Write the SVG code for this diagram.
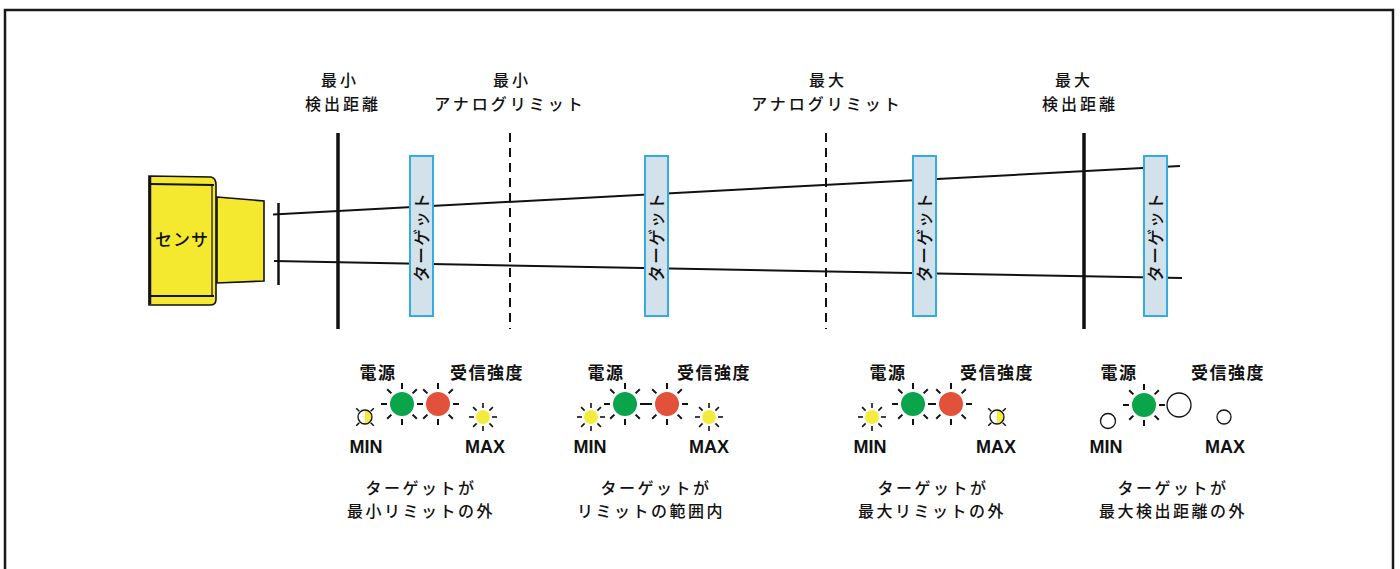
<svg xmlns="http://www.w3.org/2000/svg" width="1400" height="569" viewBox="0 0 1400 569">
  <style>
    .jp { font-family: "Noto Sans CJK JP", "Noto Sans", sans-serif; fill: #111; }
    .lbl { font-size: 16px; font-weight: 500; letter-spacing: 3px; text-anchor: middle; }
    .ind { font-size: 17px; font-weight: 700; letter-spacing: 1.5px; text-anchor: middle; }
    .cap { font-size: 16px; font-weight: 500; letter-spacing: 2.5px; text-anchor: middle; }
    .mm { font-family: "Liberation Sans", Arial, sans-serif; font-size: 18px; font-weight: 700; fill: #111; text-anchor: middle; }
    .tgt rect { fill: #d2e1ea; stroke: #35ace0; stroke-width: 2; }
    .tgt text { font-size: 17px; font-weight: 500; letter-spacing: 1px; text-anchor: middle; }
    .beam { stroke: #111; stroke-width: 2; fill: none; }
    .solid { stroke: #111; stroke-width: 3.5; }
    .dash { stroke: #111; stroke-width: 2; stroke-dasharray: 9 6; }
    .green { fill: #0aa54b; }
    .red { fill: #e2513a; }
    .yel { fill: #f4ec3c; }
    .off { fill: #fff; stroke: #111; stroke-width: 1.3; }
    .ray { stroke: #111; stroke-width: 2; stroke-linecap: butt; }
  </style>
  <defs>
    <!-- 8 rays around a large lamp -->
    <g id="raysL" class="ray">
      <line x1="0" y1="-15" x2="0" y2="-21"/>
      <line x1="0" y1="15" x2="0" y2="21"/>
      <line x1="-15" y1="0" x2="-21" y2="0"/>
      <line x1="15" y1="0" x2="21" y2="0"/>
      <line x1="10.6" y1="-10.6" x2="14.8" y2="-14.8"/>
      <line x1="-10.6" y1="-10.6" x2="-14.8" y2="-14.8"/>
      <line x1="10.6" y1="10.6" x2="14.8" y2="14.8"/>
      <line x1="-10.6" y1="10.6" x2="-14.8" y2="14.8"/>
    </g>
    <!-- 8 rays around a small lamp -->
    <g id="raysS" class="ray" style="stroke-width:1.6">
      <line x1="0" y1="-9" x2="0" y2="-14"/>
      <line x1="0" y1="9" x2="0" y2="14"/>
      <line x1="-9" y1="0" x2="-14" y2="0"/>
      <line x1="9" y1="0" x2="14" y2="0"/>
      <line x1="6.4" y1="-6.4" x2="9.9" y2="-9.9"/>
      <line x1="-6.4" y1="-6.4" x2="-9.9" y2="-9.9"/>
      <line x1="6.4" y1="6.4" x2="9.9" y2="9.9"/>
      <line x1="-6.4" y1="6.4" x2="-9.9" y2="9.9"/>
    </g>
    <!-- blinking small lamp: half lit, diagonal ticks -->
    <g id="half">
      <circle r="7" fill="#fff"/>
      <path d="M0,-7 A7,7 0 0 1 0,7 Z" class="yel"/>
      <circle r="7" fill="none" stroke="#111" stroke-width="1.3"/>
      <g class="ray" style="stroke-width:1.5">
        <line x1="5.7" y1="-5.7" x2="8.8" y2="-8.8"/>
        <line x1="-5.7" y1="-5.7" x2="-8.8" y2="-8.8"/>
        <line x1="5.7" y1="5.7" x2="8.8" y2="8.8"/>
        <line x1="-5.7" y1="5.7" x2="-8.8" y2="8.8"/>
      </g>
    </g>
  </defs>

  <rect width="1400" height="569" fill="#fff"/>
  <!-- frame -->
  <rect x="5" y="10" width="1388" height="570" fill="none" stroke="#1a1a1a" stroke-width="2.5"/>

  <!-- beam / boundary lines -->
  <g id="connectors">
    <line class="beam" x1="273" y1="214.5" x2="1180" y2="166"/>
    <line class="beam" x1="274" y1="261" x2="1182" y2="278"/>
    <line class="solid" x1="338" y1="133" x2="338" y2="329"/>
    <line class="solid" x1="1084" y1="133" x2="1084" y2="329"/>
    <line class="dash" x1="510" y1="133" x2="510" y2="329"/>
    <line class="dash" x1="826" y1="133" x2="826" y2="329"/>
  </g>

  <!-- sensor -->
  <g id="sensor">
    <path d="M149,176 L211,177 Q216,178 216,185 L216,299 Q216,305 211,305 L149,305 Z" fill="#f5e92f" stroke="#111" stroke-width="1.6"/>
    <line x1="151" y1="184" x2="214" y2="185" stroke="#111" stroke-width="2"/>
    <line x1="151" y1="296" x2="214" y2="296" stroke="#111" stroke-width="2"/>
    <line x1="150" y1="177" x2="150" y2="304" stroke="#111" stroke-width="2.5"/>
    <line x1="212" y1="186" x2="212" y2="295" stroke="#111" stroke-width="1.2"/>
    <path d="M217,197 L264,201 L264,281 L217,283 Z" fill="#f5e92f" stroke="#111" stroke-width="1.6"/>
    <line x1="278.5" y1="203" x2="278.5" y2="285" stroke="#111" stroke-width="2.5"/>
    <text class="jp" x="182" y="246" style="font-size:17px;font-weight:500;letter-spacing:1px;text-anchor:middle">センサ</text>
  </g>

  <!-- boundary labels -->
  <g id="label-min-range">
    <text class="jp lbl" x="340" y="86">最小</text>
    <text class="jp lbl" x="343" y="110">検出距離</text>
  </g>
  <g id="label-min-analog">
    <text class="jp lbl" x="512" y="86">最小</text>
    <text class="jp lbl" x="510" y="110">アナログリミット</text>
  </g>
  <g id="label-max-analog">
    <text class="jp lbl" x="828" y="86">最大</text>
    <text class="jp lbl" x="827" y="110">アナログリミット</text>
  </g>
  <g id="label-max-range">
    <text class="jp lbl" x="1074" y="86">最大</text>
    <text class="jp lbl" x="1080" y="110">検出距離</text>
  </g>

  <!-- targets -->
  <g id="target1" class="tgt">
    <rect x="410" y="156" width="23" height="160"/>
    <text class="jp" transform="translate(421.5,237) rotate(-90)" x="0" y="6">ターゲット</text>
  </g>
  <g id="target2" class="tgt">
    <rect x="645" y="156" width="23" height="160"/>
    <text class="jp" transform="translate(656.5,237) rotate(-90)" x="0" y="6">ターゲット</text>
  </g>
  <g id="target3" class="tgt">
    <rect x="913" y="156" width="23" height="160"/>
    <text class="jp" transform="translate(924.5,237) rotate(-90)" x="0" y="6">ターゲット</text>
  </g>
  <g id="target4" class="tgt">
    <rect x="1144" y="156" width="23" height="160"/>
    <text class="jp" transform="translate(1155.5,237) rotate(-90)" x="0" y="6">ターゲット</text>
  </g>

  <!-- indicator panel 1 -->
  <g id="status1">
    <text class="jp ind" x="378" y="379">電源</text>
    <text class="jp ind" x="487" y="379">受信強度</text>
    <use href="#raysL" x="402" y="404"/>
    <circle class="green" cx="402" cy="404" r="12"/>
    <use href="#raysL" x="438" y="404"/>
    <circle class="red" cx="438" cy="404" r="12"/>
    <use href="#half" x="365" y="417"/>
    <use href="#raysS" x="483" y="417"/>
    <circle class="yel" cx="483" cy="417" r="7"/>
    <text class="mm" x="366" y="453">MIN</text>
    <text class="mm" x="485" y="453">MAX</text>
    <text class="jp cap" x="421" y="494">ターゲットが</text>
    <text class="jp cap" x="421" y="517">最小リミットの外</text>
  </g>

  <!-- indicator panel 2 -->
  <g id="status2">
    <text class="jp ind" x="606" y="379">電源</text>
    <text class="jp ind" x="714" y="379">受信強度</text>
    <use href="#raysL" x="625" y="404"/>
    <circle class="green" cx="625" cy="404" r="12"/>
    <use href="#raysL" x="667" y="404"/>
    <circle class="red" cx="667" cy="404" r="12"/>
    <use href="#raysS" x="591" y="417"/>
    <circle class="yel" cx="591" cy="417" r="7"/>
    <use href="#raysS" x="709" y="417"/>
    <circle class="yel" cx="709" cy="417" r="7"/>
    <text class="mm" x="590" y="453">MIN</text>
    <text class="mm" x="709" y="453">MAX</text>
    <text class="jp cap" x="656" y="494">ターゲットが</text>
    <text class="jp cap" x="651" y="517">リミットの範囲内</text>
  </g>

  <!-- indicator panel 3 -->
  <g id="status3">
    <text class="jp ind" x="888" y="379">電源</text>
    <text class="jp ind" x="997" y="379">受信強度</text>
    <use href="#raysL" x="913" y="404"/>
    <circle class="green" cx="913" cy="404" r="12"/>
    <use href="#raysL" x="951" y="404"/>
    <circle class="red" cx="951" cy="404" r="12"/>
    <use href="#raysS" x="872" y="417"/>
    <circle class="yel" cx="872" cy="417" r="7"/>
    <use href="#half" x="997" y="417"/>
    <text class="mm" x="870" y="453">MIN</text>
    <text class="mm" x="996" y="453">MAX</text>
    <text class="jp cap" x="933" y="494">ターゲットが</text>
    <text class="jp cap" x="932" y="517">最大リミットの外</text>
  </g>

  <!-- indicator panel 4 -->
  <g id="status4">
    <text class="jp ind" x="1119" y="379">電源</text>
    <text class="jp ind" x="1228" y="379">受信強度</text>
    <use href="#raysL" x="1144" y="405"/>
    <circle class="green" cx="1144" cy="405" r="12"/>
    <circle class="off" cx="1179" cy="405" r="12"/>
    <circle class="off" cx="1108" cy="421" r="7.5"/>
    <circle class="off" cx="1224" cy="417" r="7"/>
    <text class="mm" x="1106" y="453">MIN</text>
    <text class="mm" x="1225" y="453">MAX</text>
    <text class="jp cap" x="1173" y="494">ターゲットが</text>
    <text class="jp cap" x="1173" y="517">最大検出距離の外</text>
  </g>
</svg>
